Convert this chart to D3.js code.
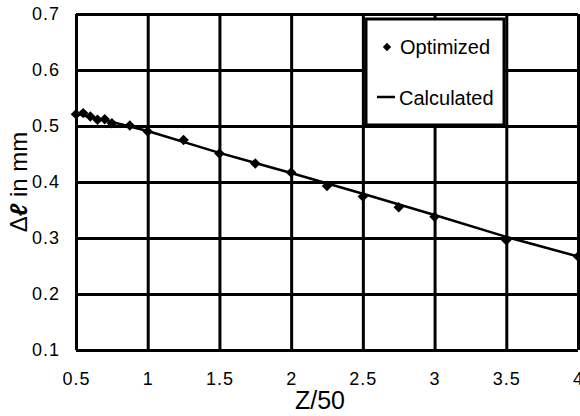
<!DOCTYPE html>
<html>
<head>
<meta charset="utf-8">
<script src="https://cdn.jsdelivr.net/npm/d3@7"></script>
<style>
  body { margin: 0; background: #fff; }
  svg text { font-family: "Liberation Sans", Arial, sans-serif; fill: #000; }
</style>
</head>
<body>
<svg id="chart" width="580" height="416"></svg>
<script>
// 최적화된 값 (점)
const optZ = [0.5, 0.55, 0.6, 0.65, 0.7, 0.75, 0.875, 1.0, 1.25, 1.5, 1.75, 2.0, 2.25, 2.5, 2.75, 3.0, 3.5, 4.0];
const optDl = [0.521, 0.523, 0.517, 0.511, 0.512, 0.505, 0.501, 0.490, 0.475, 0.451, 0.433, 0.417, 0.393, 0.374, 0.355, 0.338, 0.296, 0.267];

// 계산된 값 (선)
const calcZ = [0.5, 0.75, 1.0, 1.5, 2.0, 2.5, 3.0, 3.5, 4.0];
const calcDl = [0.522, 0.507, 0.491, 0.452, 0.416, 0.379, 0.341, 0.302, 0.267];

// 눈금
const xTicks = [0.5, 1, 1.5, 2, 2.5, 3, 3.5, 4];
const yTicks = [0.1, 0.2, 0.3, 0.4, 0.5, 0.6, 0.7];

const svg = d3.select("#chart");
const margin = { top: 14, right: 2, bottom: 66, left: 76 };
const width = 580 - margin.left - margin.right;
const height = 416 - margin.top - margin.bottom;

const g = svg.append("g")
    .attr("transform", `translate(${margin.left},${margin.top})`);

const x = d3.scaleLinear().domain([0.5, 4]).range([0, width]);
const y = d3.scaleLinear().domain([0.1, 0.7]).range([height, 0]);

// 격자 (x)
g.append("g")
    .attr("transform", `translate(0,${height})`)
    .call(d3.axisBottom(x).tickValues(xTicks).tickSize(height).tickSizeOuter(0)
        .tickFormat(d => d))
    .call(a => a.select(".domain").remove())
    .call(a => a.selectAll(".tick line")
        .attr("y2", -height).attr("stroke", "#000").attr("stroke-width", 3))
    .call(a => a.selectAll(".tick text")
        .attr("y", 22).attr("dy", "0.71em")
        .style("font-size", "18px").style("letter-spacing", "1px"));

// 격자 (y)
g.append("g")
    .call(d3.axisLeft(y).tickValues(yTicks).tickSize(0).tickFormat(d3.format(".1f")))
    .call(a => a.select(".domain").remove())
    .call(a => a.selectAll(".tick line")
        .attr("x2", width).attr("stroke", "#000").attr("stroke-width", 3))
    .call(a => a.selectAll(".tick text")
        .attr("x", -16)
        .style("font-size", "18px").style("letter-spacing", "1px"));

// 계산된 선
const line = d3.line()
    .x((d, i) => x(calcZ[i]))
    .y(d => y(d));

g.append("path")
    .datum(calcDl)
    .attr("fill", "none")
    .attr("stroke", "#000")
    .attr("stroke-width", 2.5)
    .attr("d", line);

// 최적화 점 (마름모)
const diamond = d3.symbol().type(d3.symbolDiamond2).size(70);
g.selectAll(".opt")
    .data(optDl)
    .enter()
    .append("path")
    .attr("class", "opt")
    .attr("transform", (d, i) => `translate(${x(optZ[i])},${y(d)})`)
    .attr("d", diamond)
    .attr("fill", "#000");

// 범례
const legend = svg.append("g");
legend.append("rect")
    .attr("x", 366).attr("y", 19)
    .attr("width", 138).attr("height", 106)
    .attr("fill", "#fff")
    .attr("stroke", "#000")
    .attr("stroke-width", 3);
legend.append("path")
    .attr("transform", "translate(387,47)")
    .attr("d", d3.symbol().type(d3.symbolDiamond2).size(45))
    .attr("fill", "#000");
legend.append("text")
    .attr("x", 400).attr("y", 54)
    .style("font-size", "20px")
    .text("Optimized");
legend.append("line")
    .attr("x1", 377).attr("x2", 395)
    .attr("y1", 97).attr("y2", 97)
    .attr("stroke", "#000").attr("stroke-width", 2.5);
legend.append("text")
    .attr("x", 399).attr("y", 105)
    .style("font-size", "20px")
    .text("Calculated");

// 축 제목
svg.append("text")
    .attr("x", 320)
    .attr("y", 409)
    .attr("text-anchor", "middle")
    .style("font-size", "25px")
    .text("Z/50");

const yLabel = svg.append("text")
    .attr("transform", "translate(27,182) rotate(-90)")
    .attr("text-anchor", "middle")
    .style("font-size", "24px");
yLabel.append("tspan").text("Δ");
yLabel.append("tspan")
    .style("font-weight", "bold")
    .style("font-style", "italic")
    .text("ℓ");
yLabel.append("tspan").text(" in mm");
</script>
</body>
</html>
